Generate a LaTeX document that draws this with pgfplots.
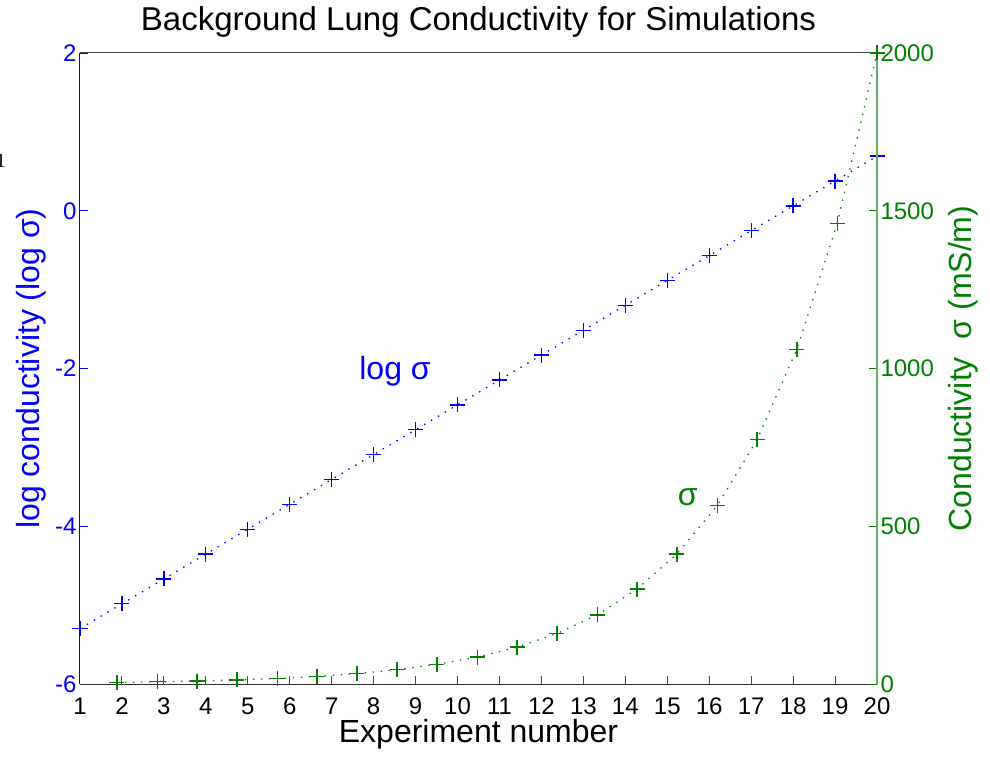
\documentclass[border=0pt]{standalone}
\usepackage{fontspec}
\setmainfont{Liberation Sans}
\newfontfamily\serifglyph{Liberation Serif}
\usepackage{pgfplots}
\pgfplotsset{compat=1.18}
\definecolor{mblue}{RGB}{0,0,255}
\definecolor{mgreen}{RGB}{0,128,0}
\definecolor{mgreenax}{RGB}{100,175,100}
\begin{document}
\begin{tikzpicture}
\path[use as bounding box] (-80pt,-72pt) rectangle (910pt,684pt);
\pgfplotsset{
  every axis/.append style={
    scale only axis, width=797pt, height=631pt, at={(0pt,0pt)}, anchor=south west,
    xmin=1, xmax=20, clip=false,
    tick align=inside, major tick length=8pt,
    /pgf/number format/assume math mode=true,
    /pgf/number format/1000 sep={},
    tick label style={font=\fontsize{24}{28}\selectfont},
    label style={font=\fontsize{32}{38}\selectfont},
  }
}
\begin{axis}[
  axis x line*=bottom, axis y line*=left,
  ymin=-6, ymax=2, ytick={-6,-4,-2,0,2},
  xtick={1,...,20},
  x axis line style={black!80, line width=1pt},
  y axis line style={mblue, line width=1pt},
  ytick style={mblue, line width=1pt},
  xtick style={black!70, line width=1pt},
  yticklabel style={mblue},
  xticklabel style={anchor=base, yshift=-30pt},
  ylabel={log conductivity (log σ)},
  ylabel style={mblue, at={(axis description cs:-0.0514,0.5)}, anchor=base},
  xlabel={Experiment number},
  xlabel style={at={(axis description cs:0.5,0)}, anchor=base, yshift=-58pt},
  title={Background Lung Conductivity for Simulations},
  title style={font=\fontsize{33}{40}\selectfont, at={(axis description cs:0.5,1)}, anchor=base, yshift=17pt},
]
\addplot[mblue, line width=1.3pt, dash pattern=on 1.4pt off 6.6pt, mark=+, mark size=7.5pt, mark options={solid, draw=mblue, line width=1.3pt}] coordinates {
(1,-5.298) (2,-4.983) (3,-4.668) (4,-4.352) (5,-4.037) (6,-3.722) (7,-3.406)
(8,-3.091) (9,-2.776) (10,-2.461) (11,-2.145) (12,-1.830) (13,-1.515) (14,-1.199)
(15,-0.884) (16,-0.569) (17,-0.253) (18,0.062) (19,0.377) (20,0.693)
};
\node[mblue, font=\fontsize{32}{38}\selectfont] at (axis cs:8.51,-2.04) {log σ};
\node[mgreen, font=\fontsize{32}{38}\selectfont] at (axis cs:15.49,-3.63) {σ};
\end{axis}
\begin{axis}[
  axis x line*=top, axis y line*=right,
  xtick=\empty,
  ymin=0, ymax=2000, ytick={0,500,1000,1500,2000},
  x axis line style={black!70, line width=1pt},
  y axis line style={mgreenax, line width=1.5pt},
  ytick style={mgreen, line width=1pt},
  yticklabel style={mgreen},
  ylabel={Conductivity\ \ σ (mS/m)},
  ylabel style={mgreen, at={(axis description cs:1.119,0.5)}, anchor=base},
]
\addplot[mgreen, line width=1.3pt, dash pattern=on 1.4pt off 6.6pt, mark=+, mark size=7.5pt, mark options={solid, draw=mgreen, line width=1.3pt}] coordinates {
(1.88,5) (2.84,6.85) (3.79,9.39) (4.74,12.9) (5.70,17.6) (6.65,24.2) (7.60,33.1)
(8.56,45.4) (9.51,62.2) (10.47,85.3) (11.42,117) (12.37,160) (13.33,219) (14.28,301)
(15.23,412) (16.19,565) (17.14,774) (18.09,1061) (19.05,1459) (20.00,2000)
};
\end{axis}
\node[anchor=base east, inner sep=0pt, font=\serifglyph\fontsize{20}{24}\selectfont] at (-74pt,516pt) {1};
\end{tikzpicture}
\end{document}
